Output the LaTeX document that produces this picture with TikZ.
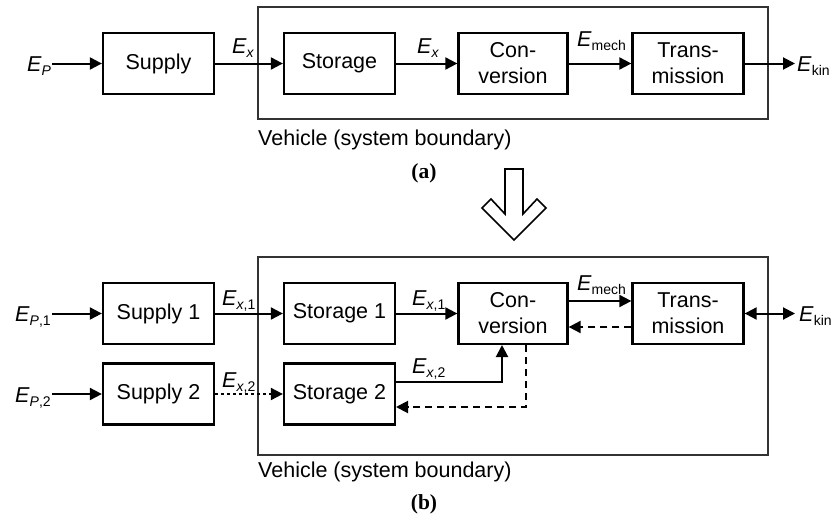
\documentclass[tikz,border=0pt]{standalone}
\usepackage{fontspec}
\setmainfont{Liberation Sans}
\newfontfamily\capfont{Liberation Serif}
\usetikzlibrary{arrows.meta}
\newcommand\subtxt[1]{\raisebox{-0.2em}{\fontsize{14}{14}\selectfont #1}}
\newcommand\EE[1]{\textit{E}\subtxt{#1}}
\begin{document}
\begin{tikzpicture}[x=1pt,y=-1pt,
  txt/.style={font=\fontsize{21.5}{26}\selectfont, inner sep=0pt},
  box/.style={draw, line width=2.3pt, inner sep=0pt, align=center,
    minimum width=111pt, minimum height=61pt, font=\fontsize{21.5}{26}\selectfont},
  boundary/.style={draw=black!80, line width=1.3pt},
  flow/.style={line width=2pt, -{Triangle[length=12pt,width=12pt]}},
  dflow/.style={flow, dash pattern=on 7pt off 5pt},
  dotflow/.style={flow, dash pattern=on 2.5pt off 3.5pt},
  lab/.style={txt, anchor=base west},
  captxt/.style={font=\fontsize{21.5}{26}\capfont\bfseries, inner sep=0pt, anchor=base}]
\useasboundingbox (0,0) rectangle (834,519);

% ---------- (a) ----------
\draw[boundary] (258,7) rectangle (768,119);
\node[box] (sup) at (158.5,63.5) {Supply};
\node[box] (sto) at (339.5,63.5) {Storage};
\node[box, minimum width=109pt] (con) at (513,63.5) {Con-\\version};
\node[box] (tra) at (688,63.5) {Trans-\\mission};
\node[lab] (ep) at (27,71) {\EE{\textit{P}}};
\node[lab] (ekin) at (797,71) {\EE{kin}};
\coordinate (epE) at (52,63.5);
\coordinate (ekinW) at (795,63.5);
\draw[flow] (epE) -- (sup.west);
\draw[flow] (sup.east) -- (sto.west);
\draw[flow] (sto.east) -- (con.west);
\draw[flow] (con.east) -- (tra.west);
\draw[flow] (tra.east) -- (ekinW);
\node[lab] (ex1) at (232,53) {\EE{\textit{x}}};
\node[lab] (ex2) at (417,53) {\EE{\textit{x}}};
\node[lab] (emech) at (577,46) {\EE{mech}};
\node[lab] (veha) at (258,145) {Vehicle (system boundary)};
\node[captxt] (capa) at (424,178) {(a)};

% hollow arrow
\draw[line width=1.6pt, line join=miter] (505,169) -- (523,169) -- (523,214) -- (537,199) -- (546,208)
  -- (514,240) -- (482,208) -- (491,199) -- (505,214) -- cycle;

% ---------- (b) ----------
\draw[boundary] (258,257) rectangle (768,455);
\node[box] (sup1) at (158.5,313.5) {Supply 1};
\node[box] (sup2) at (158.5,394) {Supply 2};
\node[box] (sto1) at (339.5,313.5) {Storage 1};
\node[box] (sto2) at (339.5,394) {Storage 2};
\node[box, minimum width=109pt] (con2) at (513,313.5) {Con-\\version};
\node[box] (tra2) at (688,313.5) {Trans-\\mission};

\node[lab] (ep1) at (15,321) {\EE{\textit{P},1}};
\node[lab] (ep2) at (15,402) {\EE{\textit{P},2}};
\coordinate (ep1E) at (52,313.5);
\coordinate (ep2E) at (52,394);
\draw[flow] (ep1E) -- (sup1.west);
\draw[flow] (ep2E) -- (sup2.west);
\draw[flow] (sup1.east) -- (sto1.west);
\draw[dotflow] (sup2.east) -- (sto2.west);
\draw[flow] (sto1.east) -- (con2.west);
\coordinate (s2out) at (396,382);
\coordinate (c2in) at (502,345);
\draw[flow] (s2out) -| (c2in);
\coordinate (c2out) at (526,345);
\coordinate (s2in) at (396,407);
\draw[dflow] (c2out) |- (s2in);
\draw[flow] (con2.east |- 0,301) -- (tra2.west |- 0,301);
\draw[dflow] (tra2.west |- 0,327) -- (con2.east |- 0,327);
\coordinate (ekin2W) at (795,313.5);
\draw[flow, {Triangle[length=12pt,width=12pt]}-{Triangle[length=12pt,width=12pt]}] (tra2.east) -- (ekin2W);

\node[lab] (lx1) at (222,305) {\EE{\textit{x},1}};
\node[lab] (lx2) at (222,387) {\EE{\textit{x},2}};
\node[lab] (rx1) at (412,305) {\EE{\textit{x},1}};
\node[lab] (rx2) at (412,373) {\EE{\textit{x},2}};
\node[lab] (emech2) at (577,290) {\EE{mech}};
\node[lab] (ekin2) at (799,321) {\EE{kin}};
\node[lab] (vehb) at (258,477) {Vehicle (system boundary)};
\node[captxt] (capb) at (424,509) {(b)};
\end{tikzpicture}
\end{document}
